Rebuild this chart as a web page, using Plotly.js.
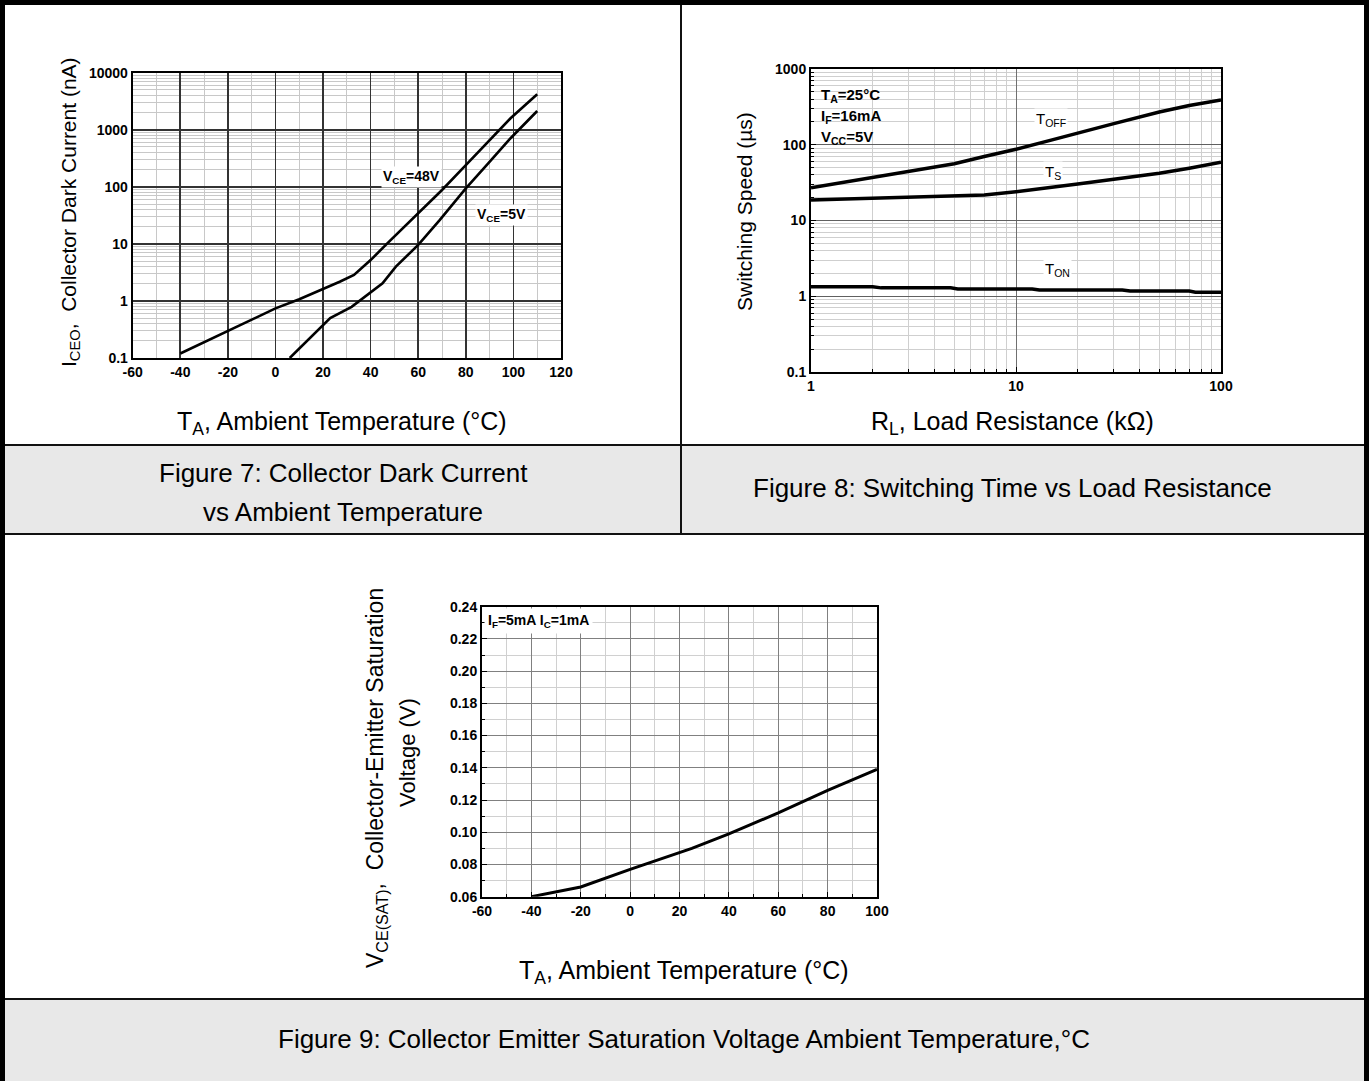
<!DOCTYPE html>
<html>
<head>
<meta charset="utf-8">
<script src="https://cdn.plot.ly/plotly-3.0.1.min.js"></script>
<style>
  html, body { margin: 0; padding: 0; background: #ffffff; }
  #chart { width: 1369px; height: 1081px; }
</style>
</head>
<body>
<div id="chart"></div>
<script>
// ---------------- DATA ----------------
// Figure 7: Collector dark current vs ambient temperature
const fig7TempVce48 = [-40, -20, 0, 10, 20, 27, 33, 40, 47, 59, 70, 80, 89.5, 98.8, 110];
const fig7IceoVce48 = [0.12, 0.30, 0.74, 1.07, 1.6, 2.17, 2.85, 5.2, 10.2, 31, 88, 240, 620, 1590, 4200];
const fig7TempVce5  = [6, 20, 23, 32, 39.5, 45, 50.6, 60, 69, 80, 89.5, 98.8, 110];
const fig7IceoVce5  = [0.1, 0.38, 0.5, 0.79, 1.36, 2.04, 4.0, 9.6, 26, 94, 260, 710, 2130];
const fig7XTicks = [-60, -40, -20, 0, 20, 40, 60, 80, 100, 120];
const fig7XTickText = ['-60', '-40', '-20', '0', '20', '40', '60', '80', '100', '120'];
const fig7YTicks = [0.1, 1, 10, 100, 1000, 10000];
const fig7YTickText = ['0.1', '1', '10', '100', '1000', '10000'];

// Figure 8: Switching time vs load resistance
const fig8Rl    = [1, 2, 3, 5, 7, 10, 15, 20, 30, 50, 70, 100];
const fig8Toff  = [27, 37, 45, 56, 70, 87, 116, 141, 190, 270, 330, 390];
const fig8Ts    = [18.6, 19.6, 20, 20.6, 21.7, 24, 27.1, 30.3, 35, 42, 48.9, 58.7];
const fig8RlOn  = [1, 2, 2.2, 4.8, 5.2, 12, 13, 33, 36, 70, 75, 100];
const fig8Ton   = [1.33, 1.33, 1.29, 1.29, 1.25, 1.25, 1.21, 1.21, 1.17, 1.17, 1.13, 1.13];
const fig8XTicks = [1, 10, 100];
const fig8XTickText = ['1', '10', '100'];
const fig8YTicks = [0.1, 1, 10, 100, 1000];
const fig8YTickText = ['0.1', '1', '10', '100', '1000'];

// Figure 9: Collector-emitter saturation voltage vs ambient temperature
const fig9Temp = [-40, -20, 0, 25, 40, 60, 80, 100];
const fig9Vce  = [0.060, 0.066, 0.077, 0.090, 0.099, 0.112, 0.126, 0.139];
const fig9XTicks = [-60, -40, -20, 0, 20, 40, 60, 80, 100];
const fig9XTickText = ['-60', '-40', '-20', '0', '20', '40', '60', '80', '100'];

// ---------------- LAYOUT HELPERS ----------------
const W = 1369, H = 1081;
const fx = p => p / W;
const fy = p => 1 - p / H;
const FONT = '"Liberation Sans", Arial, Helvetica, sans-serif';

const P7 = { l: 132.7, r: 561, t: 72.7, b: 358 };
const P8 = { l: 811, r: 1221, t: 69, b: 372 };
const P9 = { l: 482, r: 877, t: 606.7, b: 896.7 };

const tickFont = { family: FONT, size: 14, color: '#000', weight: 'bold' };

function baseAxis(extra) {
  return Object.assign({
    showline: true, linecolor: '#000', linewidth: 2, mirror: true,
    zeroline: false, fixedrange: true, tickfont: tickFont,
    ticks: '', showgrid: true
  }, extra);
}

// ---------------- TRACES ----------------
const traces = [
  { x: fig7TempVce48, y: fig7IceoVce48, xaxis: 'x', yaxis: 'y', mode: 'lines',
    line: { color: '#000', width: 2.6 }, name: 'VCE=48V', hoverinfo: 'skip' },
  { x: fig7TempVce5, y: fig7IceoVce5, xaxis: 'x', yaxis: 'y', mode: 'lines',
    line: { color: '#000', width: 2.6 }, name: 'VCE=5V', hoverinfo: 'skip' },
  { x: fig8Rl, y: fig8Toff, xaxis: 'x2', yaxis: 'y2', mode: 'lines',
    line: { color: '#000', width: 3.5 }, name: 'TOFF', hoverinfo: 'skip' },
  { x: fig8Rl, y: fig8Ts, xaxis: 'x2', yaxis: 'y2', mode: 'lines',
    line: { color: '#000', width: 3.5 }, name: 'TS', hoverinfo: 'skip' },
  { x: fig8RlOn, y: fig8Ton, xaxis: 'x2', yaxis: 'y2', mode: 'lines',
    line: { color: '#000', width: 3.5 }, name: 'TON', hoverinfo: 'skip' },
  { x: fig9Temp, y: fig9Vce, xaxis: 'x3', yaxis: 'y3', mode: 'lines',
    line: { color: '#000', width: 3 }, name: 'VCE(SAT)', hoverinfo: 'skip' }
];

// ---------------- ANNOTATIONS ----------------
function ann(text, x, y, o) {
  return Object.assign({
    text: text, x: x, y: y, xref: 'paper', yref: 'paper',
    showarrow: false, xanchor: 'center', yanchor: 'middle',
    font: { family: FONT, size: 14, color: '#000' }
  }, o || {});
}
const f = (size) => ({ family: FONT, size: size, color: '#000' });

const annotations = [
  // axis titles
  ann('T<sub>A</sub>, Ambient Temperature (°C)', fx(342), fy(423), { font: f(25) }),
  ann('R<sub>L</sub>, Load Resistance (kΩ)', fx(1012), fy(423), { font: f(25) }),
  ann('T<sub>A</sub>, Ambient Temperature (°C)', fx(684), fy(972), { font: f(25) }),
  ann('I<sub>CEO</sub>,  Collector Dark Current (nA)', fx(70), fy(212), { textangle: -90, font: f(21) }),
  ann('Switching Speed (µs)', fx(745), fy(212), { textangle: -90, font: f(21) }),
  ann('V<sub>CE(SAT)</sub>,  Collector-Emitter Saturation', fx(376), fy(778), { textangle: -90, font: f(23) }),
  ann('Voltage (V)', fx(407), fy(753), { textangle: -90, font: f(22) }),

  // captions
  ann('Figure 7: Collector Dark Current', fx(343), fy(473), { font: f(26) }),
  ann('vs Ambient Temperature', fx(343), fy(512), { font: f(26) }),
  ann('Figure 8: Switching Time vs Load Resistance', fx(1012), fy(488), { font: f(26) }),
  ann('Figure 9: Collector Emitter Saturation Voltage Ambient Temperature,°C', fx(684), fy(1039), { font: f(26) }),

  // in-plot labels, figure 7
  { text: '<b>V<sub>CE</sub>=48V</b>', x: 57, y: Math.log10(150), xref: 'x', yref: 'y', showarrow: false,
    bgcolor: '#fff', borderpad: 1, font: f(14) },
  { text: '<b>V<sub>CE</sub>=5V</b>', x: 95, y: Math.log10(32), xref: 'x', yref: 'y', showarrow: false,
    bgcolor: '#fff', borderpad: 1, font: f(14) },

  // in-plot labels, figure 8 (conditions box text)
  ann('<b>T<sub>A</sub>=25°C</b>', fx(819), fy(96), { xanchor: 'left', font: f(15) }),
  ann('<b>I<sub>F</sub>=16mA</b>', fx(819), fy(117), { xanchor: 'left', font: f(15) }),
  ann('<b>V<sub>CC</sub>=5V</b>', fx(819), fy(138), { xanchor: 'left', font: f(15) }),
  { text: 'T<sub>OFF</sub>', x: 1.171, y: 2.33, xref: 'x2', yref: 'y2', showarrow: false,
    bgcolor: '#fff', borderpad: 1, font: f(15) },
  { text: 'T<sub>S</sub>', x: 1.179, y: 1.64, xref: 'x2', yref: 'y2', showarrow: false,
    bgcolor: '#fff', borderpad: 1, font: f(15) },
  { text: 'T<sub>ON</sub>', x: 1.203, y: 0.35, xref: 'x2', yref: 'y2', showarrow: false,
    bgcolor: '#fff', borderpad: 1, font: f(15) },

  // in-plot label, figure 9
  { text: '<b>I<sub>F</sub>=5mA I<sub>C</sub>=1mA</b>', x: fx(484), y: fy(621), xref: 'paper', yref: 'paper',
    xanchor: 'left', yanchor: 'middle', showarrow: false, bgcolor: '#fff', borderpad: 3, font: f(14) }
];

// ---------------- PANEL FRAME SHAPES ----------------
const shapes = [
  { type: 'rect', xref: 'paper', yref: 'paper', x0: 0, x1: 1, y0: fy(534), y1: fy(445), fillcolor: '#e8e8e8', line: { width: 0 }, layer: 'below' },
  { type: 'rect', xref: 'paper', yref: 'paper', x0: 0, x1: 1, y0: 0, y1: fy(999), fillcolor: '#e8e8e8', line: { width: 0 }, layer: 'below' },
  // white box behind the figure 8 conditions text (covers grid, under traces)
  { type: 'rect', xref: 'paper', yref: 'paper', x0: fx(812.5), x1: fx(890), y0: fy(158), y1: fy(70.5), fillcolor: '#fff', line: { width: 0 }, layer: 'between' },
  { type: 'line', xref: 'paper', yref: 'paper', x0: 0, x1: 1, y0: fy(445), y1: fy(445), line: { color: '#111', width: 2 } },
  { type: 'line', xref: 'paper', yref: 'paper', x0: 0, x1: 1, y0: fy(534), y1: fy(534), line: { color: '#111', width: 2 } },
  { type: 'line', xref: 'paper', yref: 'paper', x0: 0, x1: 1, y0: fy(999), y1: fy(999), line: { color: '#111', width: 2 } },
  { type: 'line', xref: 'paper', yref: 'paper', x0: fx(681), x1: fx(681), y0: fy(534), y1: 1, line: { color: '#111', width: 2 } },
  { type: 'line', xref: 'paper', yref: 'paper', x0: fx(2.5), x1: fx(2.5), y0: 0, y1: 1, line: { color: '#000', width: 5 } },
  { type: 'line', xref: 'paper', yref: 'paper', x0: fx(1366.5), x1: fx(1366.5), y0: 0, y1: 1, line: { color: '#000', width: 5 } },
  { type: 'line', xref: 'paper', yref: 'paper', x0: 0, x1: 1, y0: fy(2.5), y1: fy(2.5), line: { color: '#000', width: 5 } }
];

// ---------------- LAYOUT ----------------
const layout = {
  width: W, height: H,
  margin: { l: 0, r: 0, t: 0, b: 0, pad: 0 },
  paper_bgcolor: '#fff', plot_bgcolor: '#fff',
  showlegend: false,
  font: { family: FONT, color: '#000' },

  xaxis: baseAxis({
    domain: [fx(P7.l), fx(P7.r)], anchor: 'y', range: [-60, 120],
    tickvals: fig7XTicks, ticktext: fig7XTickText, gridcolor: '#333', gridwidth: 1.6,
    minor: { dtick: 10, tick0: 0, showgrid: true, gridcolor: '#c8c8c8', gridwidth: 1 }
  }),
  yaxis: baseAxis({
    domain: [fy(P7.b), fy(P7.t)], anchor: 'x', type: 'log', range: [-1, 4],
    tickvals: fig7YTicks, ticktext: fig7YTickText, gridcolor: '#333', gridwidth: 1.6,
    minor: { dtick: 'D1', showgrid: true, gridcolor: '#c8c8c8', gridwidth: 1 }
  }),

  xaxis2: baseAxis({
    domain: [fx(P8.l), fx(P8.r)], anchor: 'y2', type: 'log', range: [0, 2],
    tickvals: fig8XTicks, ticktext: fig8XTickText, gridcolor: '#707070', gridwidth: 1,
    ticks: 'inside', ticklen: 5, tickcolor: '#000',
    minor: { dtick: 'D1', showgrid: true, gridcolor: '#cfcfcf', gridwidth: 1, ticks: 'inside', ticklen: 3 }
  }),
  yaxis2: baseAxis({
    domain: [fy(P8.b), fy(P8.t)], anchor: 'x2', type: 'log', range: [-1, 3],
    tickvals: fig8YTicks, ticktext: fig8YTickText, gridcolor: '#606060', gridwidth: 1,
    ticks: 'inside', ticklen: 5, tickcolor: '#000',
    minor: { dtick: 'D1', showgrid: true, gridcolor: '#cfcfcf', gridwidth: 1, ticks: 'inside', ticklen: 3 }
  }),

  xaxis3: baseAxis({
    domain: [fx(P9.l), fx(P9.r)], anchor: 'y3', range: [-60, 100],
    tickvals: fig9XTicks, ticktext: fig9XTickText, gridcolor: '#808080', gridwidth: 1,
    ticks: 'inside', ticklen: 5, tickcolor: '#000',
    minor: { dtick: 10, tick0: 0, showgrid: true, gridcolor: '#d0d0d0', gridwidth: 1, ticks: 'inside', ticklen: 3 }
  }),
  yaxis3: baseAxis({
    domain: [fy(P9.b), fy(P9.t)], anchor: 'x3', range: [0.06, 0.24],
    tick0: 0.06, dtick: 0.02, tickformat: '.2f', gridcolor: '#808080', gridwidth: 1,
    ticks: 'inside', ticklen: 5, tickcolor: '#000',
    minor: { dtick: 0.01, showgrid: true, gridcolor: '#d0d0d0', gridwidth: 1, ticks: 'inside', ticklen: 3 }
  }),

  annotations: annotations,
  shapes: shapes
};

Plotly.newPlot('chart', traces, layout, { staticPlot: true, displayModeBar: false });
</script>
</body>
</html>
